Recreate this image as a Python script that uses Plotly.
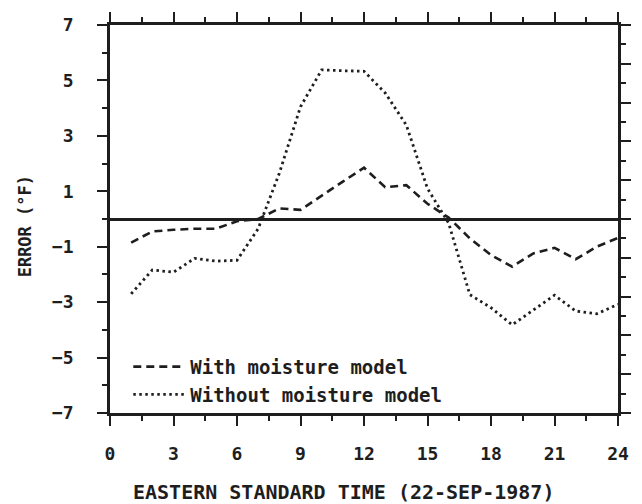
import plotly.graph_objects as go

hours = list(range(1, 25))
with_moisture = [-0.85, -0.45, -0.39, -0.35, -0.35, -0.08, 0.0, 0.38, 0.33, 0.85, 1.35, 1.85,
                 1.15, 1.22, 0.55, 0.05, -0.7, -1.3, -1.72, -1.24, -1.04, -1.45, -1.0, -0.68]
without_moisture = [-2.7, -1.84, -1.92, -1.42, -1.52, -1.49, -0.35, 1.65, 4.05, 5.38, 5.35, 5.33,
                    4.55, 3.39, 1.1, -0.15, -2.73, -3.2, -3.82, -3.3, -2.75, -3.32, -3.42, -3.08]
x_ticks = [0, 3, 6, 9, 12, 15, 18, 21, 24]
y_ticks = [-7, -5, -3, -1, 1, 3, 5, 7]

INK = "#1e1e1e"
FONT = "DejaVu Sans Mono"

fig = go.Figure()
fig.add_trace(go.Scatter(x=hours, y=with_moisture, mode="lines", name="With moisture model",
                         line=dict(color=INK, width=2.6, dash="8px,5px")))
fig.add_trace(go.Scatter(x=hours, y=without_moisture, mode="lines", name="Without moisture model",
                         line=dict(color=INK, width=2.8, dash="2.5px,3.5px")))
# invisible trace to activate the right-hand axis
fig.add_trace(go.Scatter(x=[0], y=[0], yaxis="y2", mode="markers", marker=dict(opacity=0),
                         showlegend=False, hoverinfo="skip"))

fig.update_layout(
    width=642, height=504,
    margin=dict(l=110, r=24, t=21, b=91),
    plot_bgcolor="white", paper_bgcolor="white",
    font=dict(family=FONT, color=INK, size=18, weight="bold"),
    showlegend=True,
    legend=dict(x=0.036, y=0.168, xanchor="left", yanchor="top", bgcolor="rgba(0,0,0,0)",
                font=dict(family=FONT, size=19, color=INK, weight="bold"),
                tracegroupgap=0, itemwidth=52),
    xaxis=dict(range=[0, 24], tickvals=x_ticks, ticktext=[str(v) for v in x_ticks],
               showgrid=False, zeroline=False, showline=True, linecolor=INK, linewidth=2.5,
               mirror="ticks", ticks="outside", ticklen=10, tickwidth=2, tickcolor=INK,
               ticklabelstandoff=13,
               minor=dict(tick0=1.5, dtick=3, ticks="outside", ticklen=5, tickwidth=2, tickcolor=INK),
               tickfont=dict(family=FONT, size=18, weight="bold")),
    yaxis=dict(range=[-7, 7], tickvals=y_ticks, ticktext=[str(v).replace("-", "\u2212") for v in y_ticks],
               showgrid=False, zeroline=True, zerolinecolor=INK, zerolinewidth=2.5,
               showline=True, linecolor=INK, linewidth=2.5,
               ticks="outside", ticklen=10, tickwidth=2, tickcolor=INK, ticklabelstandoff=20,
               minor=dict(tick0=0, dtick=2, ticks="outside", ticklen=5, tickwidth=2, tickcolor=INK),
               tickfont=dict(family=FONT, size=18, weight="bold")),
    yaxis2=dict(range=[-7, 7], overlaying="y", side="right", showgrid=False, zeroline=False,
                showline=True, linecolor=INK, linewidth=2.5, showticklabels=False,
                tick0=0, dtick=1.4, ticks="outside", ticklen=10, tickwidth=2, tickcolor=INK,
                minor=dict(tick0=0.7, dtick=1.4, ticks="outside", ticklen=5, tickwidth=2, tickcolor=INK)),
    annotations=[
        dict(text="EASTERN STANDARD TIME (22-SEP-1987)", xref="paper", yref="paper",
             x=0.4606, y=-0.204, xanchor="center", yanchor="middle", showarrow=False,
             font=dict(family=FONT, size=20, color=INK, weight="bold")),
        dict(text="ERROR (°F)", xref="paper", yref="paper", textangle=-90,
             x=-0.167, y=0.4815, xanchor="center", yanchor="middle", showarrow=False,
             font=dict(family=FONT, size=17, color=INK, weight="bold")),
    ],
)

fig.write_html("out.html")
